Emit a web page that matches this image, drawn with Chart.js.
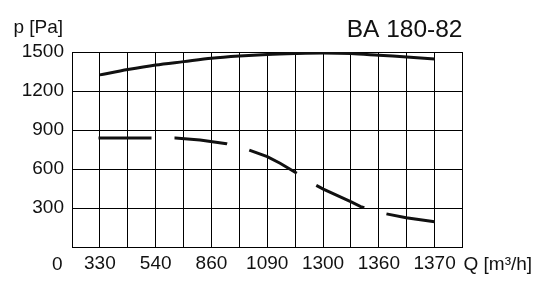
<!DOCTYPE html>
<html>
<head>
<meta charset="utf-8">
<script src="https://cdn.jsdelivr.net/npm/chart.js@4"></script>
<style>
  body { margin: 0; background: #fff; }
  canvas { display: block; }
</style>
</head>
<body>
<canvas id="fanChart" width="542" height="285"></canvas>
<script>
// grid positions (0..14) carry the tick labels at every second line
var qTickPos = [1, 3, 5, 7, 9, 11, 13];
var qTickLabels = ['330', '540', '860', '1090', '1300', '1360', '1370'];
var pTicks = [0, 300, 600, 900, 1200, 1500];

// upper curve
var upperX = [1, 2, 3, 4, 5, 6, 7, 8, 9, 10, 11, 12, 13];
var upperP = [1324, 1365, 1400, 1426, 1452, 1469, 1481, 1488, 1492, 1488, 1475, 1462, 1446];

// lower curve (drawn dashed)
var lowerX = [0.95, 2.89, 3.71, 4.59, 5.54, 6.35, 7.0, 7.46, 8.0, 8.68, 9.01, 10.01, 10.35, 11.13, 11.98, 13.0];
var lowerP = [838, 838, 838, 823, 795, 746, 695, 644, 575, 483, 445, 347, 311, 261, 225, 194];

var FONT = 'Liberation Sans, Arial, Helvetica, sans-serif';

function toPoints(xs, ys) {
    var pts = [];
    for (var i = 0; i < xs.length; i++) {
        pts.push({ x: xs[i], y: ys[i] });
    }
    return pts;
}

/* draws the loose texts: unit labels, origin "0" and the model name */
var textPlugin = {
    id: 'fanTexts',
    afterDraw: function(chart) {
        var ctx = chart.ctx;
        var area = chart.chartArea;
        ctx.save();
        ctx.fillStyle = '#111';
        ctx.textBaseline = 'alphabetic';

        ctx.font = '19px ' + FONT;
        ctx.textAlign = 'left';
        ctx.fillText('p [Pa]', 13.5, 32.5);
        ctx.fillText('Q [m\u00b3/h]', area.right + 1, 269.5);

        ctx.textAlign = 'right';
        ctx.fillText('0', area.left - 9.5, 269.5);

        ctx.font = '24.5px ' + FONT;
        ctx.fillText('BA 180-82', area.right, 36.5);
        ctx.restore();
    }
};

var ctx = document.getElementById('fanChart');
var chart = new Chart(ctx, {
    type: 'line',
    data: {
        datasets: [
            {
                label: 'upper',
                data: toPoints(upperX, upperP),
                borderColor: '#111',
                borderWidth: 3,
                pointRadius: 0,
                tension: 0.3,
                fill: false
            },
            {
                label: 'lower',
                data: toPoints(lowerX, lowerP),
                borderColor: '#111',
                borderWidth: 3,
                borderDash: [53, 23],
                borderCapStyle: 'butt',
                pointRadius: 0,
                tension: 0,
                fill: false
            }
        ]
    },
    options: {
        responsive: false,
        animation: false,
        devicePixelRatio: 1,
        layout: { padding: { left: 0, top: 52, right: 79.5, bottom: 0 } },
        plugins: {
            legend: { display: false },
            title: { display: false },
            tooltip: { enabled: false }
        },
        scales: {
            x: {
                type: 'linear',
                min: 0,
                max: 14,
                afterFit: function(scale) { scale.height = 38; },
                afterBuildTicks: function(scale) {
                    var t = [];
                    for (var i = 0; i <= 14; i++) t.push({ value: i });
                    scale.ticks = t;
                },
                ticks: {
                    autoSkip: false,
                    maxRotation: 0,
                    padding: 5,
                    color: '#111',
                    font: { family: FONT, size: 19 },
                    callback: function(value) {
                        var k = qTickPos.indexOf(value);
                        return k >= 0 ? qTickLabels[k] : '';
                    }
                },
                grid: { color: '#000', lineWidth: 1, drawTicks: false },
                border: { color: '#000', width: 1 }
            },
            y: {
                min: 0,
                max: 1500,
                afterFit: function(scale) { scale.width = 72; },
                afterBuildTicks: function(scale) {
                    scale.ticks = pTicks.map(function(v) { return { value: v }; });
                },
                ticks: {
                    padding: 8,
                    color: '#111',
                    font: { family: FONT, size: 19 },
                    callback: function(value) {
                        return value === 0 ? '' : String(value);
                    }
                },
                grid: { color: '#000', lineWidth: 1, drawTicks: false },
                border: { color: '#000', width: 1 }
            }
        }
    },
    plugins: [textPlugin]
});
</script>
</body>
</html>
